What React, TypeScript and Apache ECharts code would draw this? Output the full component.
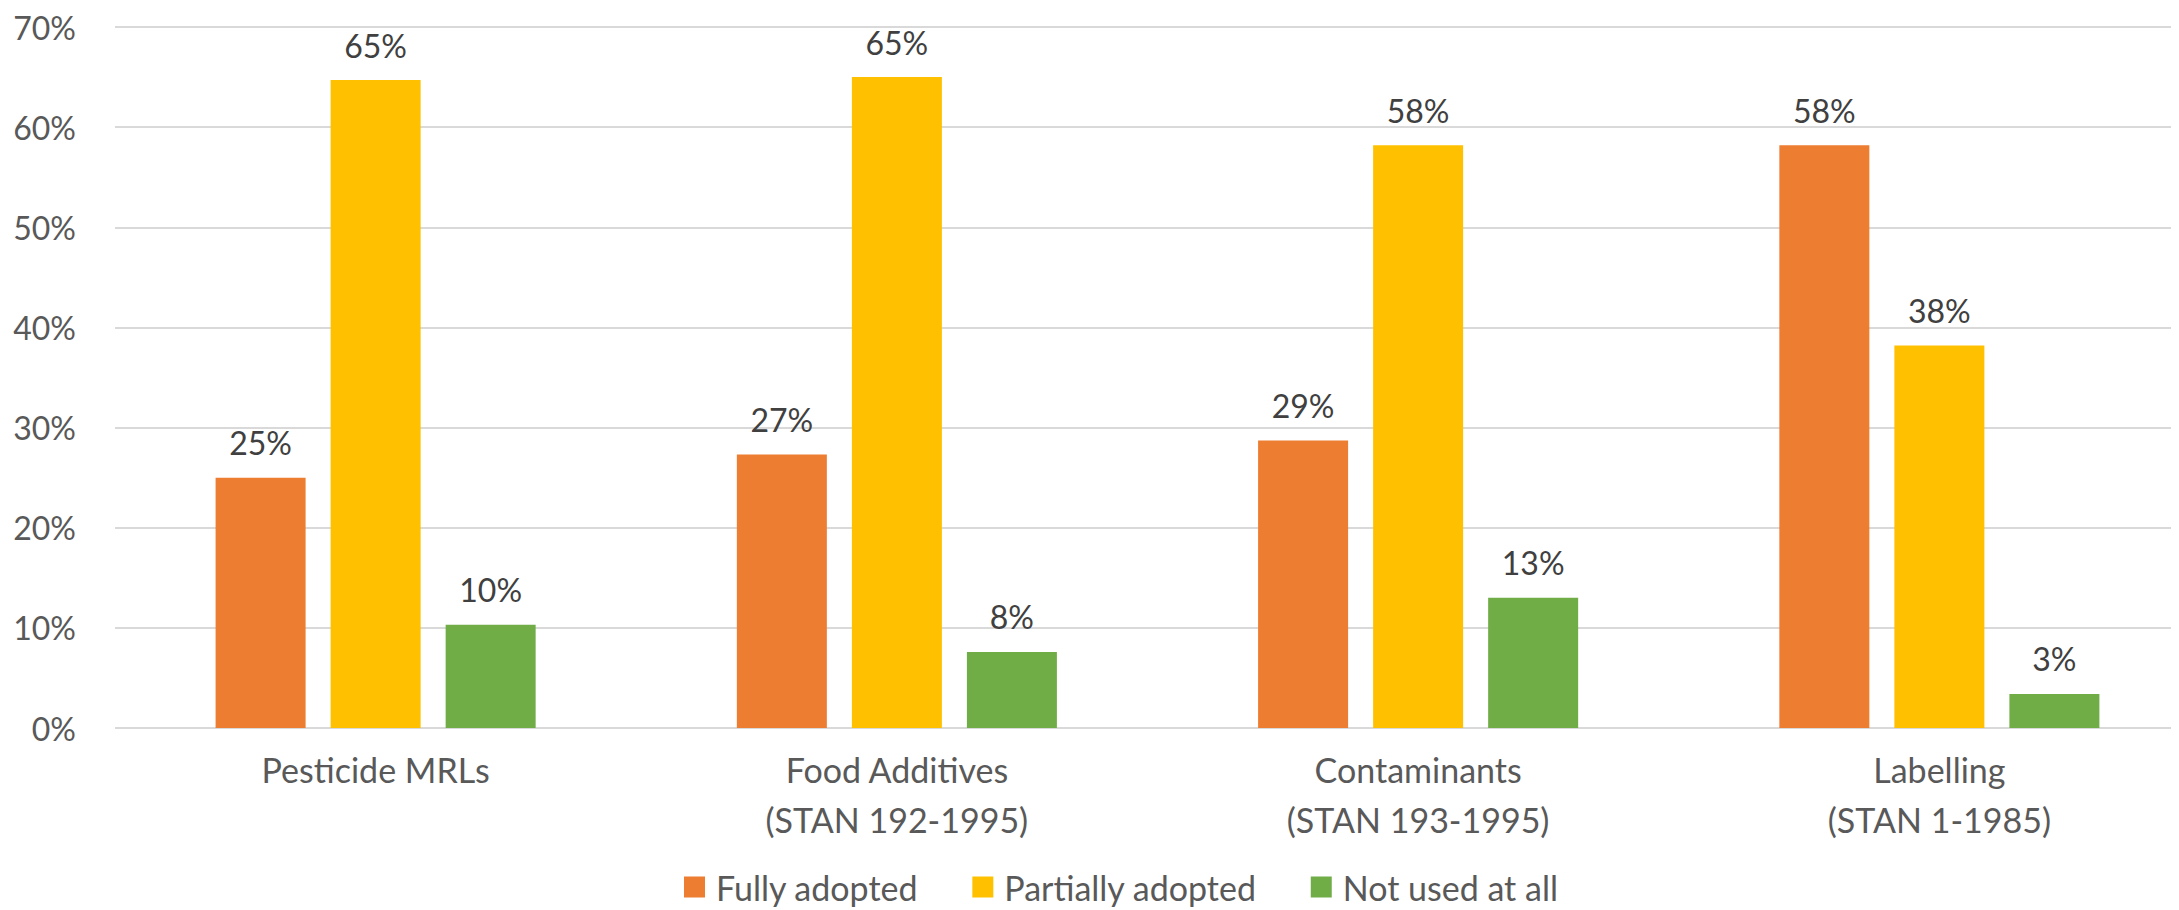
import React, { useEffect, useRef } from "react";
import * as echarts from "echarts";

const categories = [
  "Pesticide MRLs",
  "Food Additives\n(STAN 192-1995)",
  "Contaminants\n(STAN 193-1995)",
  "Labelling\n(STAN 1-1985)",
];
const seriesNames = ["Fully adopted", "Partially adopted", "Not used at all"];
const fullyAdopted = [25.0, 27.3, 28.7, 58.2];
const partiallyAdopted = [64.7, 65.0, 58.2, 38.2];
const notUsed = [10.3, 7.6, 13.0, 3.4];
const colors = ["#ED7D31", "#FFC000", "#70AD47"];

const FONT = "Lato, 'Open Sans', sans-serif";
const TEXT = "#595959";
const FS = 32;
const FS_TXT = 34;

export default function App() {
  const ref = useRef<HTMLDivElement>(null);
  useEffect(() => {
    if (!ref.current) return;
    const chart = echarts.init(ref.current, null, { renderer: "svg" });
    const values = [fullyAdopted, partiallyAdopted, notUsed];
    chart.setOption({
      animation: false,
      textStyle: { fontFamily: FONT },
      grid: {
        left: 107,
        right: -21,
        top: 19,
        bottom: 182,
        containLabel: false,
        outerBoundsMode: "none",
      },
      legend: {
        bottom: 1,
        left: 671,
        itemWidth: 21,
        itemHeight: 21,
        itemGap: 54,
        icon: "rect",
        textStyle: { fontFamily: FONT, fontSize: FS_TXT, color: TEXT, padding: [0, 0, 0, 6] },
        data: seriesNames,
      },
      xAxis: {
        type: "category",
        data: categories,
        axisLine: { show: false },
        axisTick: { show: false },
        axisLabel: {
          fontFamily: FONT,
          fontSize: FS_TXT,
          color: TEXT,
          lineHeight: 50,
          margin: 16,
        },
      },
      yAxis: {
        type: "value",
        min: 0,
        max: 70,
        interval: 10,
        axisLine: { show: false },
        axisTick: { show: false },
        splitLine: { lineStyle: { color: "#D9D9D9", width: 2 } },
        axisLabel: {
          fontFamily: FONT,
          fontSize: FS,
          color: TEXT,
          margin: 39,
          formatter: (v: number) => `${v}%`,
        },
      },
      series: seriesNames.map((name, i) => ({
        name,
        type: "bar",
        data: values[i],
        itemStyle: { color: colors[i] },
        barGap: "27.8%",
        barCategoryGap: "38.6%",
        label: {
          show: true,
          position: "top",
          distance: 19,
          fontFamily: FONT,
          fontSize: FS,
          color: "#404040",
          formatter: (p: any) => `${Math.round(p.value)}%`,
        },
      })),
    });
    return () => chart.dispose();
  }, []);
  return <div ref={ref} style={{ width: 2171, height: 902 }} />;
}
